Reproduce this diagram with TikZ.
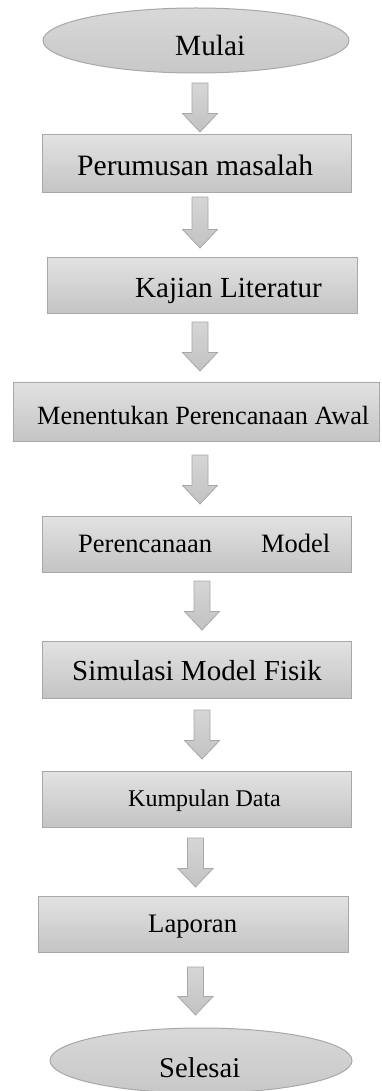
\documentclass[tikz,border=0pt]{standalone}
\usepackage{fontspec}
\setmainfont{Liberation Serif}
\usetikzlibrary{shapes.geometric}
\definecolor{bordergray}{HTML}{A8A8A8}
\definecolor{boxtop}{HTML}{E2E2E2}
\definecolor{boxbot}{HTML}{C4C4C4}
\definecolor{elltop}{HTML}{D8D8D8}
\definecolor{ellbot}{HTML}{C8C8C8}
\definecolor{arrtop}{HTML}{D6D6D6}
\definecolor{arrbot}{HTML}{C2C2C2}
\tikzset{
  stepbox/.style={rectangle, draw=bordergray, line width=1pt, top color=boxtop, bottom color=boxbot, inner sep=0pt},
  termbox/.style={ellipse, draw=bordergray, line width=1pt, top color=elltop, bottom color=ellbot, inner sep=0pt},
  blockarr/.style={draw=bordergray, line width=0.8pt, top color=arrtop, bottom color=arrbot, line join=miter},
  lbl/.style={anchor=base west, inner sep=0pt, text=black}
}
\newcommand{\blockarrow}[3]{% cx, ytop, ybottom
  \path[blockarr] (#1-8,#2) -- (#1+8,#2) -- (#1+8,#3-18.5) -- (#1+17.5,#3-18.5) -- (#1,#3) -- (#1-17.5,#3-18.5) -- (#1-8,#3-18.5) -- cycle;}
\begin{document}
\begin{tikzpicture}[x=1pt,y=-1pt]
\useasboundingbox (0,0) rectangle (382,1091);
% terminals and steps
\node[termbox, minimum width=306pt, minimum height=65pt] (e1) at (196,40.5) {};
\node[stepbox, minimum width=309pt, minimum height=58pt] (b1) at (196.5,164) {};
\node[stepbox, minimum width=310pt, minimum height=56pt] (b2) at (202,285) {};
\node[stepbox, minimum width=366pt, minimum height=59pt] (b3) at (196,411.5) {};
\node[stepbox, minimum width=309pt, minimum height=56pt] (b4) at (196.5,544) {};
\node[stepbox, minimum width=309pt, minimum height=57pt] (b5) at (196.5,669.5) {};
\node[stepbox, minimum width=309pt, minimum height=56pt] (b6) at (196.5,799) {};
\node[stepbox, minimum width=310pt, minimum height=56pt] (b7) at (193,924) {};
\node[termbox, minimum width=302pt, minimum height=65pt] (e2) at (201,1060.5) {};
% labels
\node[lbl, font=\fontsize{29.3}{34}\selectfont] (t0) at (175,56) {Mulai};
\node[lbl, font=\fontsize{29.6}{34}\selectfont] (t1) at (77,176) {Perumusan masalah};
\node[lbl, font=\fontsize{29.1}{34}\selectfont] (t2) at (135,297) {Kajian Literatur};
\node[lbl, font=\fontsize{26.3}{31}\selectfont] (t3) at (37,424) {Menentukan Perencanaan Awal};
\node[lbl, font=\fontsize{26.5}{31}\selectfont] (t4) at (78,552) {Perencanaan\hspace*{49pt}Model};
\node[lbl, font=\fontsize{29}{34}\selectfont] (t5) at (72,680) {Simulasi Model Fisik};
\node[lbl, font=\fontsize{24}{29}\selectfont] (t6) at (128,806) {Kumpulan Data};
\node[lbl, font=\fontsize{26.7}{31}\selectfont] (t7) at (148,932) {Laporan};
\node[lbl, font=\fontsize{28.6}{33}\selectfont] (t8) at (159,1077) {Selesai};
% block arrows
\blockarrow{200}{83}{132}
\blockarrow{200}{197}{248}
\blockarrow{200}{322}{371}
\blockarrow{200}{455}{504}
\blockarrow{202}{581}{630}
\blockarrow{202}{710}{759}
\blockarrow{195.5}{838}{887}
\blockarrow{195.5}{967}{1015}
\end{tikzpicture}
\end{document}
